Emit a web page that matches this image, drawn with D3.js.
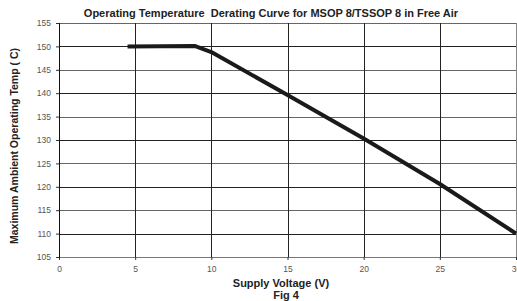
<!DOCTYPE html>
<html>
<head>
<meta charset="utf-8">
<script src="https://cdn.jsdelivr.net/npm/d3@7"></script>
<style>
  body { margin: 0; background: #fff; }
  svg { display: block; font-family: "Liberation Sans", Arial, sans-serif; }
  .tick text { fill: #555; font-size: 8.5px; }
</style>
</head>
<body>
<div class="chart"></div>
<script>
// values
var voltage = [4.5, 8.9, 10, 15, 20, 25, 30];
var tempMax = [150, 150.1, 148.8, 139.6, 130.3, 120.6, 110];
var xTicks = [0, 5, 10, 15, 20, 25, 30];
var yTicks = [105, 110, 115, 120, 125, 130, 135, 140, 145, 150, 155];

var svgWidth = 517;
var svgHeight = 301;

var margin = { top: 23, right: 1, bottom: 44, left: 59 };
var width = svgWidth - margin.left - margin.right;
var height = svgHeight - margin.top - margin.bottom;

var svg = d3.select(".chart")
  .append("svg")
  .attr("width", svgWidth)
  .attr("height", svgHeight);

var chartGroup = svg.append("g")
  .attr("transform", `translate(${margin.left}, ${margin.top})`);

var xScale = d3.scaleLinear().domain([0, 30]).range([0, width]);
var yScale = d3.scaleLinear().domain([105, 155]).range([height, 0]);

// grid lines
chartGroup.append("g")
  .selectAll("line")
  .data(yTicks)
  .enter()
  .append("line")
  .attr("x1", 0)
  .attr("x2", width)
  .attr("y1", d => Math.round(yScale(d)) + 0.5)
  .attr("y2", d => Math.round(yScale(d)) + 0.5)
  .attr("stroke", (d, i) => i % 2 ? "#222" : "#666")
  .attr("stroke-width", 1);

chartGroup.append("g")
  .selectAll("line")
  .data(xTicks)
  .enter()
  .append("line")
  .attr("x1", d => Math.round(xScale(d)) + 0.5)
  .attr("x2", d => Math.round(xScale(d)) + 0.5)
  .attr("y1", 0)
  .attr("y2", height)
  .attr("stroke", d => d == 30 ? "#888" : "#222")
  .attr("stroke-width", 1);

// axes
var bottomAxis = d3.axisBottom(xScale).tickValues(xTicks).tickSize(3).tickPadding(6);
var leftAxis = d3.axisLeft(yScale).tickValues(yTicks).tickSize(3).tickPadding(5);

var xAxisG = chartGroup.append("g")
  .attr("transform", `translate(0,${height})`)
  .call(bottomAxis);
xAxisG.select(".domain").attr("stroke", "#777");
xAxisG.selectAll(".tick line").attr("stroke", "#333");

var yAxisG = chartGroup.append("g").call(leftAxis);
yAxisG.select(".domain").attr("stroke", "#111");
yAxisG.selectAll(".tick line").attr("stroke", "#333");

// derating curve
var line = d3.line()
  .x(d => xScale(d[0]))
  .y(d => yScale(d[1]));

chartGroup.append("path")
  .datum(voltage.map((v, i) => [v, tempMax[i]]))
  .attr("d", line)
  .attr("fill", "none")
  .attr("stroke", "#1a1a1a")
  .attr("stroke-width", 4)
  .attr("stroke-linejoin", "round");

// titles
svg.append("text")
  .attr("x", 271)
  .attr("y", 17)
  .attr("text-anchor", "middle")
  .style("font-size", "11px")
  .style("font-weight", "bold")
  .attr("fill", "#222")
  .style("white-space", "pre")
  .text("Operating Temperature  Derating Curve for MSOP 8/TSSOP 8 in Free Air");

svg.append("text")
  .attr("transform", "rotate(-90)")
  .attr("x", -146)
  .attr("y", 18)
  .attr("text-anchor", "middle")
  .style("font-size", "10.5px")
  .style("font-weight", "bold")
  .attr("fill", "#222")
  .text("Maximum Ambient Operating Temp ( C)");

svg.append("text")
  .attr("x", 281)
  .attr("y", 287)
  .attr("text-anchor", "middle")
  .style("font-size", "11px")
  .style("font-weight", "bold")
  .attr("fill", "#222")
  .text("Supply Voltage (V)");

svg.append("text")
  .attr("x", 286)
  .attr("y", 299)
  .attr("text-anchor", "middle")
  .style("font-size", "11px")
  .style("font-weight", "bold")
  .attr("fill", "#222")
  .text("Fig 4");
</script>
</body>
</html>
